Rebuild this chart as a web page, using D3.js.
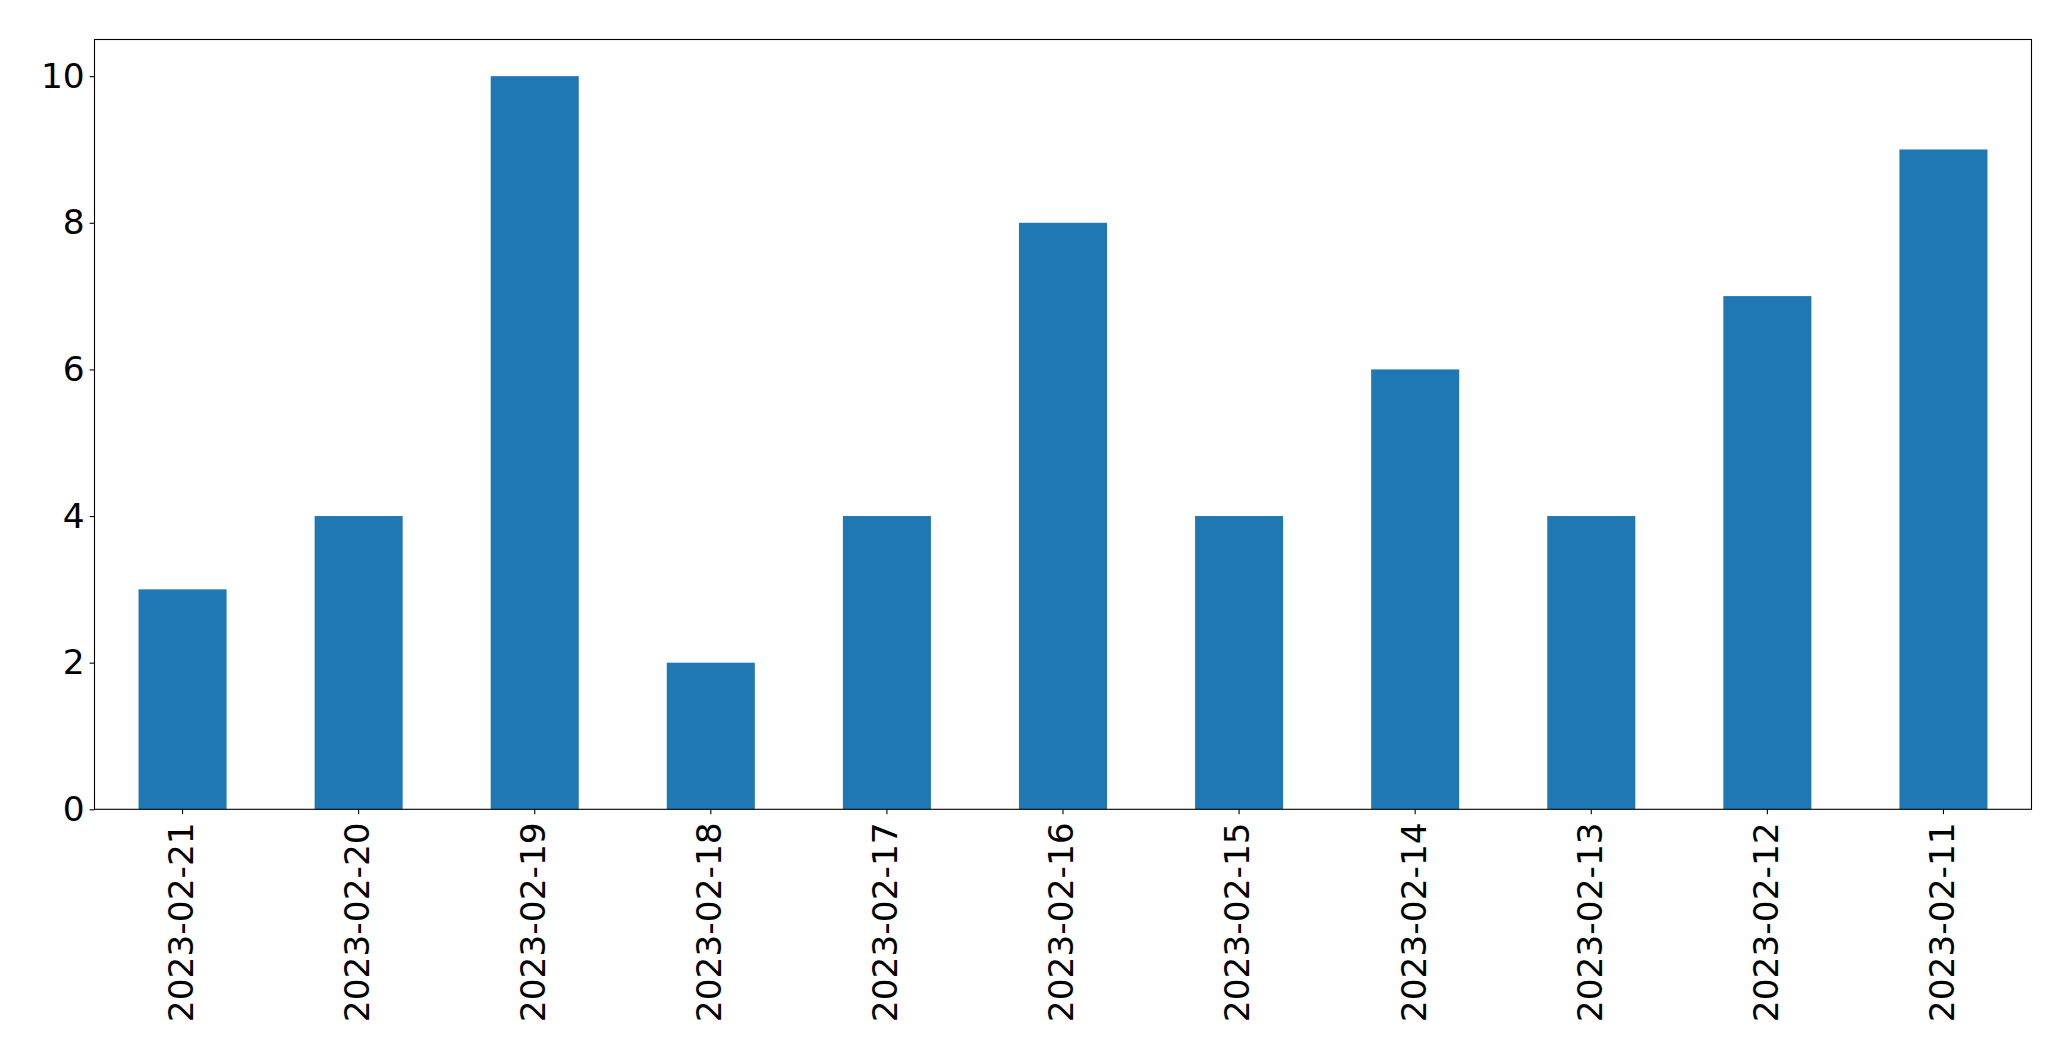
<!doctype html>
<html>
<head>
<script src="https://cdnjs.cloudflare.com/ajax/libs/d3/7.8.5/d3.min.js"></script>
<style>
  body { margin: 0; background: #fff; }
  svg text { font-family: "DejaVu Sans", sans-serif; }
</style>
</head>
<body>
<svg id="chart" width="2071" height="1061"></svg>
<script>
const dates = ["2023-02-21", "2023-02-20", "2023-02-19", "2023-02-18", "2023-02-17", "2023-02-16",
               "2023-02-15", "2023-02-14", "2023-02-13", "2023-02-12", "2023-02-11"];
const counts = [3, 4, 10, 2, 4, 8, 4, 6, 4, 7, 9];
const yTicks = [0, 2, 4, 6, 8, 10];

const plotLeft = 94.5, plotRight = 2031.5, plotTop = 39.5, plotBottom = 809.3;
const svg = d3.select("#chart");

const x = d3.scaleBand().domain(dates).range([plotLeft, plotRight]).paddingInner(0.5).paddingOuter(0.25);
const y = d3.scaleLinear().domain([0, 10.5]).range([plotBottom, plotTop]);

svg.selectAll("rect.bar")
  .data(dates)
  .enter()
  .append("rect")
  .attr("class", "bar")
  .attr("x", d => x(d))
  .attr("width", x.bandwidth())
  .attr("y", (d, i) => y(counts[i]))
  .attr("height", (d, i) => y(0) - y(counts[i]))
  .attr("fill", "#1f77b4");

const xAxis = svg.append("g")
  .attr("transform", `translate(0,${plotBottom})`)
  .call(d3.axisBottom(x).tickSize(4.9).tickPadding(4.9));
xAxis.select(".domain").remove();
xAxis.selectAll("line").attr("stroke", "#000").attr("stroke-width", 1.1);
xAxis.selectAll("text")
  .attr("font-size", "34.4px")
  .attr("fill", "#000")
  .attr("transform", "rotate(-90)")
  .attr("text-anchor", "end")
  .attr("x", -13)
  .attr("y", 0)
  .attr("dy", "0.3em");

const yAxis = svg.append("g")
  .attr("transform", `translate(${plotLeft},0)`)
  .call(d3.axisLeft(y).tickValues(yTicks).tickSize(4.9).tickPadding(4.9));
yAxis.select(".domain").remove();
yAxis.selectAll("line").attr("stroke", "#000").attr("stroke-width", 1.1);
yAxis.selectAll("text").attr("font-size", "34.4px").attr("fill", "#000");

svg.append("rect")
  .attr("x", plotLeft).attr("y", plotTop)
  .attr("width", plotRight - plotLeft).attr("height", plotBottom - plotTop)
  .attr("fill", "none").attr("stroke", "#000").attr("stroke-width", 1.1);
</script>
</body>
</html>
